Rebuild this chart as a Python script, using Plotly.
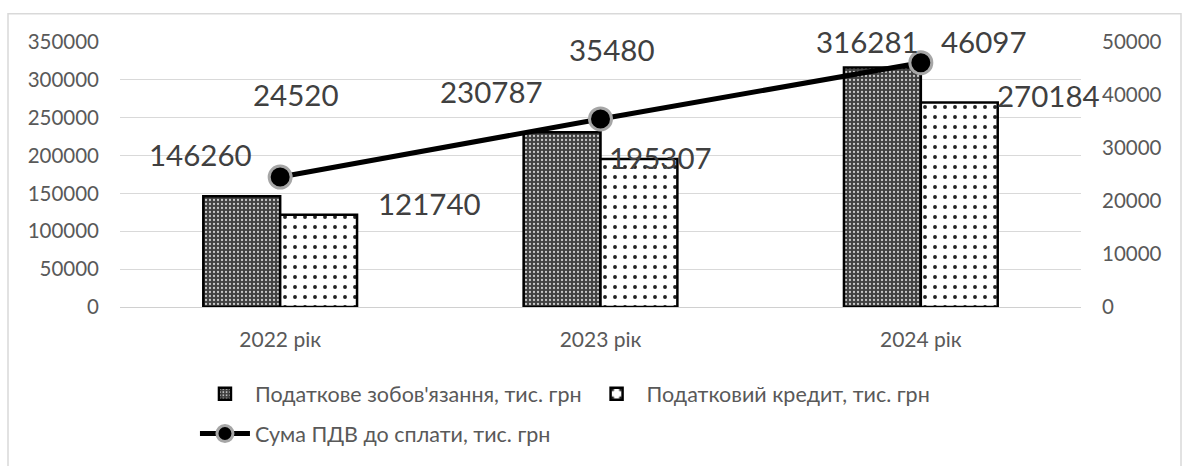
import plotly.graph_objects as go

# Data
years = ["2022 рік", "2023 рік", "2024 рік"]
liability = [146260, 230787, 316281]      # Податкове зобов'язання
credit = [121740, 195307, 270184]         # Податковий кредит
vat_due = [24520, 35480, 46097]           # Сума ПДВ до сплати

left_ticks = [0, 50000, 100000, 150000, 200000, 250000, 300000, 350000]
right_ticks = [0, 10000, 20000, 30000, 40000, 50000]

FONT = "Lato, 'Open Sans', sans-serif"
TICK_COLOR = "#595959"
LABEL_COLOR = "#404040"

fig = go.Figure()

fig.add_trace(go.Bar(
    x=years, y=liability, name="Податкове зобов'язання, тис. грн",
    marker=dict(
        color="#555555",
        line=dict(color="black", width=2.5),
        pattern=dict(shape=".", fgcolor="#c8c8c8", bgcolor="#404040",
                     size=4, solidity=0.25, fillmode="replace"),
    ),
    legend="legend",
))
fig.add_trace(go.Bar(
    x=years, y=credit, name="Податковий кредит, тис. грн",
    marker=dict(
        color="white",
        line=dict(color="black", width=2.5),
        pattern=dict(shape=".", fgcolor="#222222", bgcolor="white",
                     size=10, solidity=0.12, fillmode="replace"),
    ),
    legend="legend",
))
fig.add_trace(go.Scatter(
    x=years, y=vat_due, name="Сума ПДВ до сплати, тис. грн",
    yaxis="y2", mode="lines+markers",
    line=dict(color="black", width=5),
    marker=dict(symbol="circle", size=22, color="black",
                line=dict(color="#a6a6a6", width=3)),
    legend="legend2",
))

# Value labels placed beside their marks (pixel offsets from each mark)
label_font = dict(family=FONT, size=29.5, color=LABEL_COLOR)
bar_off = 0.12
annotations = []
for i, v in enumerate(liability):
    dx, dy = [(-41, 42), (-71, 41), (-15, 26)][i]
    annotations.append(dict(x=i - bar_off, y=v, xref="x", yref="y", text=str(v),
                            xshift=dx, yshift=dy, showarrow=False, font=label_font))
for i, v in enumerate(credit):
    dx, dy = [(111, 11), (22, 2), (89, 7)][i]
    annotations.append(dict(x=i + bar_off, y=v, xref="x", yref="y", text=str(v),
                            xshift=dx, yshift=dy, showarrow=False, font=label_font))
for i, v in enumerate(vat_due):
    dx, dy = [(16, 83), (11, 69), (63, 21)][i]
    annotations.append(dict(x=i, y=v, xref="x", yref="y2", text=str(v),
                            xshift=dx, yshift=dy, showarrow=False, font=label_font))

fig.update_layout(
    width=1184, height=466,
    margin=dict(l=120, r=103, t=42, b=153),
    paper_bgcolor="white", plot_bgcolor="white",
    font=dict(family=FONT, color=TICK_COLOR, size=20),
    barmode="group", bargap=0.52, bargroupgap=0,
    xaxis=dict(type="category", range=[-0.5, 2.5], showgrid=False,
               showline=True, linecolor="#d0d0d0", linewidth=1,
               tickfont=dict(size=21, color=TICK_COLOR), ticks="",
               ticklabelstandoff=14),
    yaxis=dict(range=[0, 350000], tickvals=left_ticks,
               ticktext=[str(t) for t in left_ticks],
               showgrid=True, gridcolor="#d9d9d9", gridwidth=1,
               zeroline=False, showline=False, ticks="",
               tickfont=dict(size=20.5, color=TICK_COLOR), ticklabelstandoff=20),
    yaxis2=dict(range=[0, 50000], tickvals=right_ticks,
                ticktext=[str(t) for t in right_ticks],
                overlaying="y", side="right", showgrid=False,
                zeroline=False, showline=False, ticks="",
                tickfont=dict(size=20.5, color=TICK_COLOR), ticklabelstandoff=20),
    legend=dict(orientation="h", x=0.078, y=-0.25, xanchor="left", yanchor="top",
                font=dict(size=21.5, color=TICK_COLOR), bgcolor="rgba(0,0,0,0)",
                itemwidth=50),
    legend2=dict(orientation="h", x=0.078, y=-0.40, xanchor="left", yanchor="top",
                 font=dict(size=21.5, color=TICK_COLOR), bgcolor="rgba(0,0,0,0)",
                 itemwidth=50),
    annotations=annotations,
    shapes=[dict(type="rect", xref="paper", yref="paper",
                 x0=(8 - 120) / 961, x1=(1181 - 120) / 961,
                 y0=-0.62, y1=(313 - 13) / 271,
                 line=dict(color="#d9d9d9", width=1.5), fillcolor="rgba(0,0,0,0)",
                 layer="below")],
    showlegend=True,
)

fig.write_html("out.html")
